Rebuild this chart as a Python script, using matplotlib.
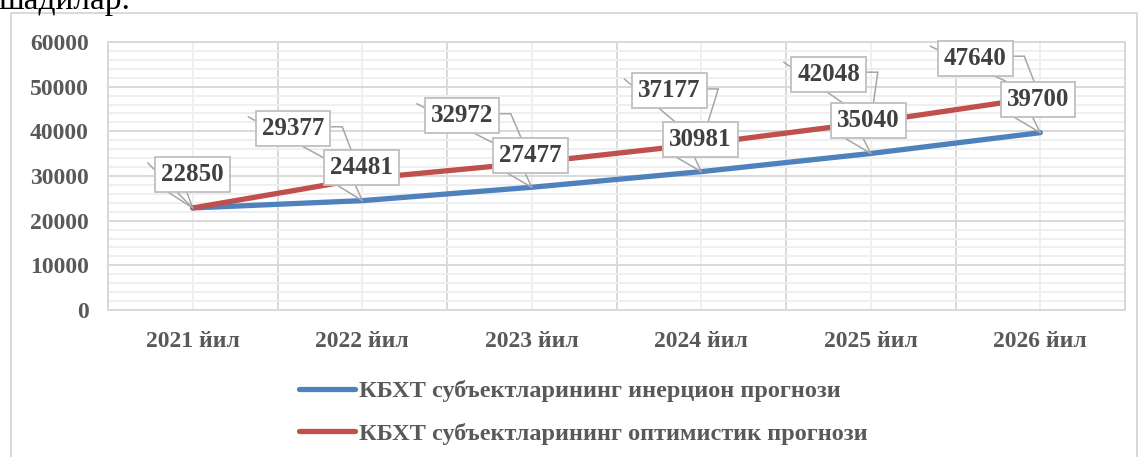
import matplotlib
matplotlib.use("Agg")
import matplotlib.pyplot as plt
from matplotlib.patches import Rectangle
from matplotlib.ticker import MultipleLocator, FixedLocator
from matplotlib.transforms import offset_copy

plt.rcParams['font.family'] = ['Liberation Serif', 'DejaVu Serif']

years = ["2021 йил", "2022 йил", "2023 йил", "2024 йил", "2025 йил", "2026 йил"]
inertial = [22850, 24481, 27477, 30981, 35040, 39700]
optimistic = [22850, 29377, 32972, 37177, 42048, 47640]
series_names = ["КБХТ субъектларининг инерцион прогнози",
                "КБХТ субъектларининг оптимистик прогнози"]

# label box offsets from the point, in image pixels (x right, y down)
blue_off = [(0, -33), (-1, -33), (-1, -32), (-1, -32), (-2, -33), (-2, -33)]
red_off = [(0, -33), (-69, -50), (-70, -47), (-32, -53), (-42, -48), (-65, -39)]

BLUE = "#4f81bd"
RED = "#c0504d"
TXT = "#595959"
LBL = "#404040"
GRID_MAJ = "#d9d9d9"
GRID_MIN = "#efefef"
LEAD = "#a6a6a6"

fig = plt.figure(figsize=(11.39, 4.57), dpi=100)
ax = fig.add_axes([108/1139, 1-310/457, (1125-108)/1139, 268/457])

x = list(range(len(years)))
ax.plot(x, inertial, color=BLUE, lw=3.8, solid_capstyle='round', zorder=3)
ax.plot(x, optimistic, color=RED, lw=3.8, solid_capstyle='round', zorder=3)

ax.set_xlim(-0.5, len(years) - 0.5)
ax.set_ylim(0, 60000)
ax.yaxis.set_major_locator(MultipleLocator(10000))
ax.yaxis.set_minor_locator(MultipleLocator(2000))
ax.set_xticks(x)
ax.set_xticklabels(years)
ax.xaxis.set_minor_locator(FixedLocator([i - 0.5 for i in range(len(years) + 1)]))

ax.grid(which='major', axis='y', color=GRID_MAJ, lw=1.4, zorder=0)
ax.grid(which='minor', axis='y', color=GRID_MIN, lw=1.4, zorder=0)
ax.grid(which='minor', axis='x', color=GRID_MAJ, lw=1.4, zorder=0)
ax.grid(which='major', axis='x', color=GRID_MIN, lw=1.4, zorder=0)
ax.set_axisbelow(True)
for s in ax.spines.values():
    s.set_color(GRID_MAJ)
    s.set_linewidth(1.4)

ax.tick_params(which='both', length=0)
ax.tick_params(axis='y', pad=14, labelsize=17, labelcolor=TXT)
ax.tick_params(axis='x', pad=15, labelsize=17, labelcolor=TXT)
for t in ax.get_xticklabels() + ax.get_yticklabels():
    t.set_fontweight('bold')

line_kw = dict(arrowstyle='-', color=LEAD, lw=1.1, shrinkA=0, shrinkB=0)

def seg(xv, yv, p1, p2=None):
    # line between two pixel offsets from the point (p2=None -> the point itself)
    if p2 is None:
        ax.annotate('', xy=(xv, yv), xytext=(p1[0], -p1[1]), textcoords='offset pixels',
                    arrowprops=line_kw, zorder=4)
    else:
        tr = offset_copy(ax.transData, fig=fig, x=p1[0], y=-p1[1], units='dots')
        ax.annotate('', xy=(xv, yv), xycoords=tr, xytext=(p2[0] - p1[0], -(p2[1] - p1[1])),
                    textcoords='offset pixels', arrowprops=line_kw, zorder=4)

def label(xv, yv, off, tail, diag):
    ox, oy = off
    if diag:
        seg(xv, yv, (ox - 45, oy - 12))
    if tail == 'bottom':
        seg(xv, yv, (ox - 25, oy + 17))
        seg(xv, yv, (ox - 6, oy + 17))
    elif tail == 'right':
        seg(xv, yv, (ox + 49, oy - 2))
        seg(xv, yv, (ox + 38, oy - 2), (ox + 49, oy - 2))
    ax.annotate(f"{int(round(yv))}", xy=(xv, yv), xytext=(ox, -oy), textcoords='offset pixels',
                ha='center', va='center', fontsize=18, fontweight='bold', color=LBL,
                bbox=dict(boxstyle='square,pad=0.24', fc='white', ec='#bfbfbf', lw=1.3),
                zorder=5)

label(x[0], optimistic[0], red_off[0], 'bottom', True)
for i in range(1, len(years)):
    label(x[i], optimistic[i], red_off[i], 'right', True)
for i in range(1, len(years)):
    label(x[i], inertial[i], blue_off[i], 'bottom', False)

handles = [plt.Line2D([], [], color=BLUE, lw=3.8, solid_capstyle='round'),
           plt.Line2D([], [], color=RED, lw=3.8, solid_capstyle='round')]
leg = fig.legend(handles, series_names, loc='upper left', bbox_to_anchor=(299/1139, 1-380/457),
                 frameon=False, prop={'size': 17.5, 'weight': 'bold'}, handlelength=2.3,
                 handletextpad=0.15, labelspacing=0.85, borderaxespad=0, borderpad=0)
for t in leg.get_texts():
    t.set_color(TXT)

fig.patches.append(Rectangle((11/1139, -0.1), (1137-11)/1139, 1.1 - 13/457,
                             transform=fig.transFigure, fill=False, ec=GRID_MAJ, lw=1.4))
fig.text(-2/1139, 1-9/457, "шадилар.", fontsize=24, color='black', ha='left', va='baseline')

fig.savefig("out.png", dpi=100)
